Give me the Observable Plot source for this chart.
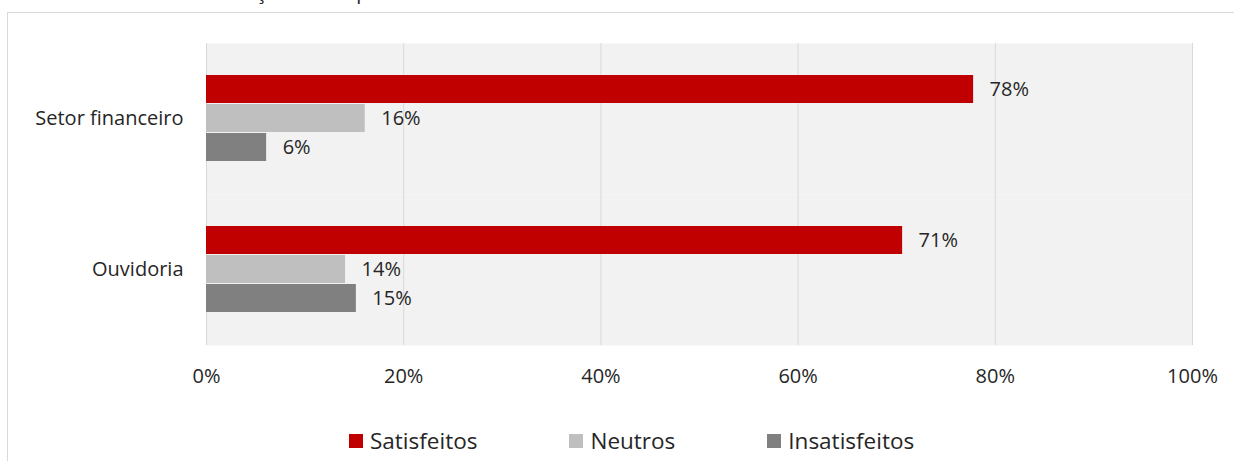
<!DOCTYPE html>
<html>
<head>
<meta charset="utf-8">
<script src="https://cdn.jsdelivr.net/npm/d3@7"></script>
<script src="https://cdn.jsdelivr.net/npm/@observablehq/plot@0.6"></script>
<style>
  html, body { margin: 0; padding: 0; background: #fff; overflow: hidden; width: 1234px; height: 461px; }
  body { position: relative; font-family: "Open Sans", Lato, sans-serif; font-weight: 400; color: #262626; }
  #title { position: absolute; left: 10px; top: -18px; font-size: 20px; line-height: 20px; white-space: nowrap; }
  #box { position: absolute; left: 7px; top: 12px; width: 1300px; height: 520px; border: 1px solid #d9d9d9; box-sizing: border-box; }
  #chart { position: absolute; left: 0; top: 0; }
  #legend { position: absolute; top: 428px; left: 349px; display: flex; gap: 92px; font-size: 22.5px; line-height: 26px; }
  .item { display: flex; align-items: center; gap: 7px; }
  .sw { width: 14px; height: 14px; display: inline-block; }
</style>
</head>
<body>
<div id="title">Gráfico 35: Grau de satisfação com o processo</div>
<div id="box"></div>
<div id="chart"></div>
<div id="legend"></div>
<script>
const categories = ["Setor financeiro", "Ouvidoria"];
const series = ["Satisfeitos", "Neutros", "Insatisfeitos"];
const colors = ["#c00000", "#bfbfbf", "#808080"];
const setorFinanceiro = [77.8, 16.1, 6.1];
const ouvidoria = [70.6, 14.1, 15.2];
const xTicks = [0, 20, 40, 60, 80, 100];

const valuesByCategory = [setorFinanceiro, ouvidoria];
const data = categories.flatMap((c, i) =>
  series.map((s, j) => ({categoria: c, serie: s, valor: valuesByCategory[i][j]}))
);

const chart = Plot.plot({
  width: 1234,
  height: 400,
  marginLeft: 206,
  marginRight: 42,
  marginTop: 42,
  marginBottom: 55,
  style: {fontFamily: "'Open Sans', Lato, sans-serif", fontSize: "20px", fontWeight: 400, color: "#262626", background: "transparent"},
  x: {domain: [0, 100], ticks: xTicks, tickFormat: d => d + "%", tickSize: 0, tickPadding: 23, label: null},
  y: {domain: series, axis: null, paddingInner: 0.03, paddingOuter: 1.1},
  fy: {domain: categories, padding: 0, axis: "left", tickSize: 0, tickPadding: 23, label: null},
  color: {domain: series, range: colors},
  marks: [
    Plot.frame({fill: "#f2f2f2", stroke: null}),
    Plot.gridX(xTicks, {stroke: "#d9d9d9", strokeOpacity: 1, strokeWidth: 1}),
    Plot.barX(data, {x: "valor", y: "serie", fy: "categoria", fill: "serie"}),
    Plot.text(data, {x: "valor", y: "serie", fy: "categoria", text: d => Math.round(d.valor) + "%",
      textAnchor: "start", dx: 16, fill: "#262626", fontSize: 20})
  ]
});
document.getElementById("chart").appendChild(chart);

const legend = document.getElementById("legend");
series.forEach((s, i) => {
  const item = document.createElement("div");
  item.className = "item";
  const sw = document.createElement("span");
  sw.className = "sw";
  sw.style.background = colors[i];
  const t = document.createElement("span");
  t.textContent = s;
  item.appendChild(sw);
  item.appendChild(t);
  legend.appendChild(item);
});
</script>
</body>
</html>
